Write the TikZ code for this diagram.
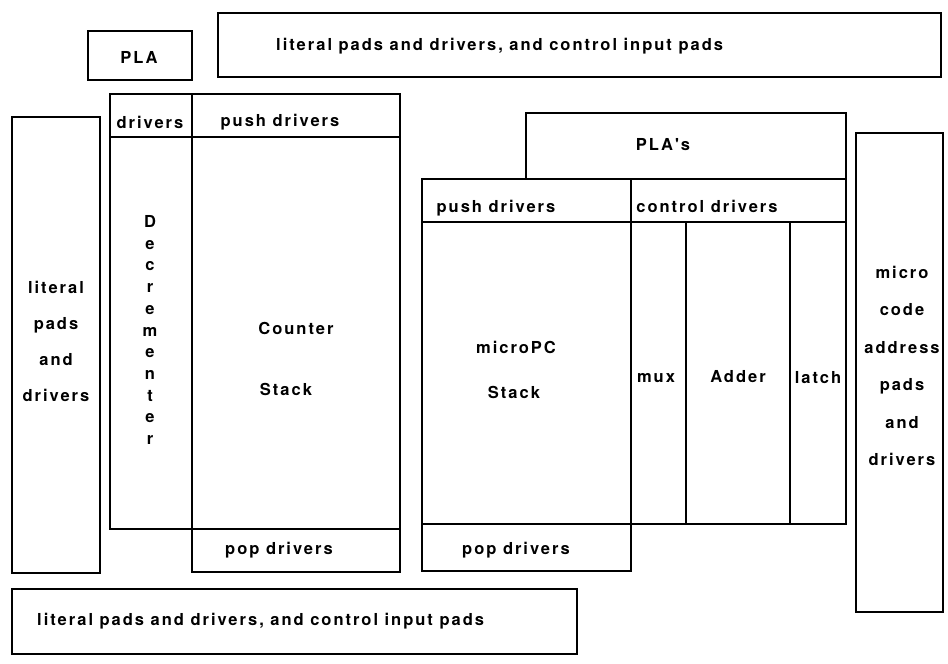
\documentclass[tikz,border=0pt]{standalone}
\usepackage{fontspec}
\newfontfamily\chipfont{TeX Gyre Heros}[LetterSpace=12]
\tikzset{
  block/.style={line width=2.8pt},
  lbl/.style={font=\chipfont\bfseries\fontsize{16.5}{19}\selectfont, inner sep=0pt},
  stacked/.style={lbl, align=center, font=\chipfont\bfseries\fontsize{16.5}{#1}\selectfont},
}
\begin{document}
\begin{tikzpicture}[x=1pt,y=-1pt]
        \useasboundingbox (0,0) rectangle (948,664);

        % Top row: PLA and the upper pad strip
        \draw[block] (88,31) rectangle (192,80);
        \node[lbl] (pla) at (139,57) {PLA};
        \draw[block] (218,13) rectangle (941,77);
        \node[lbl, anchor=west] (toppads) at (276,46) {literal pads and drivers, and control input pads};

        % Left pad strip
        \draw[block] (12,117) rectangle (100,573);
        \node[stacked=36] (leftpads) at (56,341) {literal\\pads\\and\\drivers};

        % Counter stack with decrementer
        \draw[block] (110,94) rectangle (400,529);
        \draw[block] (110,137) -- (400,137);
        \draw[block] (192,94) -- (192,529);
        \draw[block] (192,529) rectangle (400,572); % pop drivers
        \node[lbl] (decdrv) at (150,122) {drivers};
        \node[lbl] (cpush) at (280,122) {push drivers};
        \node[stacked=21.7] (decr) at (150,330) {D\\e\\c\\r\\e\\m\\e\\n\\t\\e\\r};
        \node[lbl] (counter) at (296,328) {Counter};
        \node[lbl] (cstack) at (286,389) {Stack};
        \node[lbl] (cpop) at (279,550) {pop drivers};

        % microPC stack, PLA's and adder path
        \draw[block] (526,113) rectangle (846,179);
        \node[lbl] (plas) at (663,145) {PLA's};
        \draw[block] (422,179) rectangle (846,524);
        \draw[block] (422,222) -- (846,222);
        \draw[block] (631,179) -- (631,524);
        \draw[block] (686,222) -- (686,524);
        \draw[block] (790,222) -- (790,524);
        \draw[block] (422,524) rectangle (631,571); % pop drivers
        \node[lbl] (mpush) at (496,208) {push drivers};
        \node[lbl] (ctrl) at (707,206) {control drivers};
        \node[lbl] (micropc) at (516,347) {microPC};
        \node[lbl] (mstack) at (514,392) {Stack};
        \node[lbl] (mux) at (656,378) {mux};
        \node[lbl] (adder) at (738,377) {Adder};
        \node[lbl] (latch) at (818,378) {latch};
        \node[lbl] (mpop) at (516,550) {pop drivers};

        % Right pad strip
        \draw[block] (856,133) rectangle (943,612);
        \node[stacked=37.4] (addrpads) at (902,366) {micro\\code\\address\\pads\\and\\drivers};

        % Bottom pad strip
        \draw[block] (12,589) rectangle (577,654);
        \node[lbl, anchor=west] (botpads) at (37,621) {literal pads and drivers, and control input pads};
\end{tikzpicture}
\end{document}
